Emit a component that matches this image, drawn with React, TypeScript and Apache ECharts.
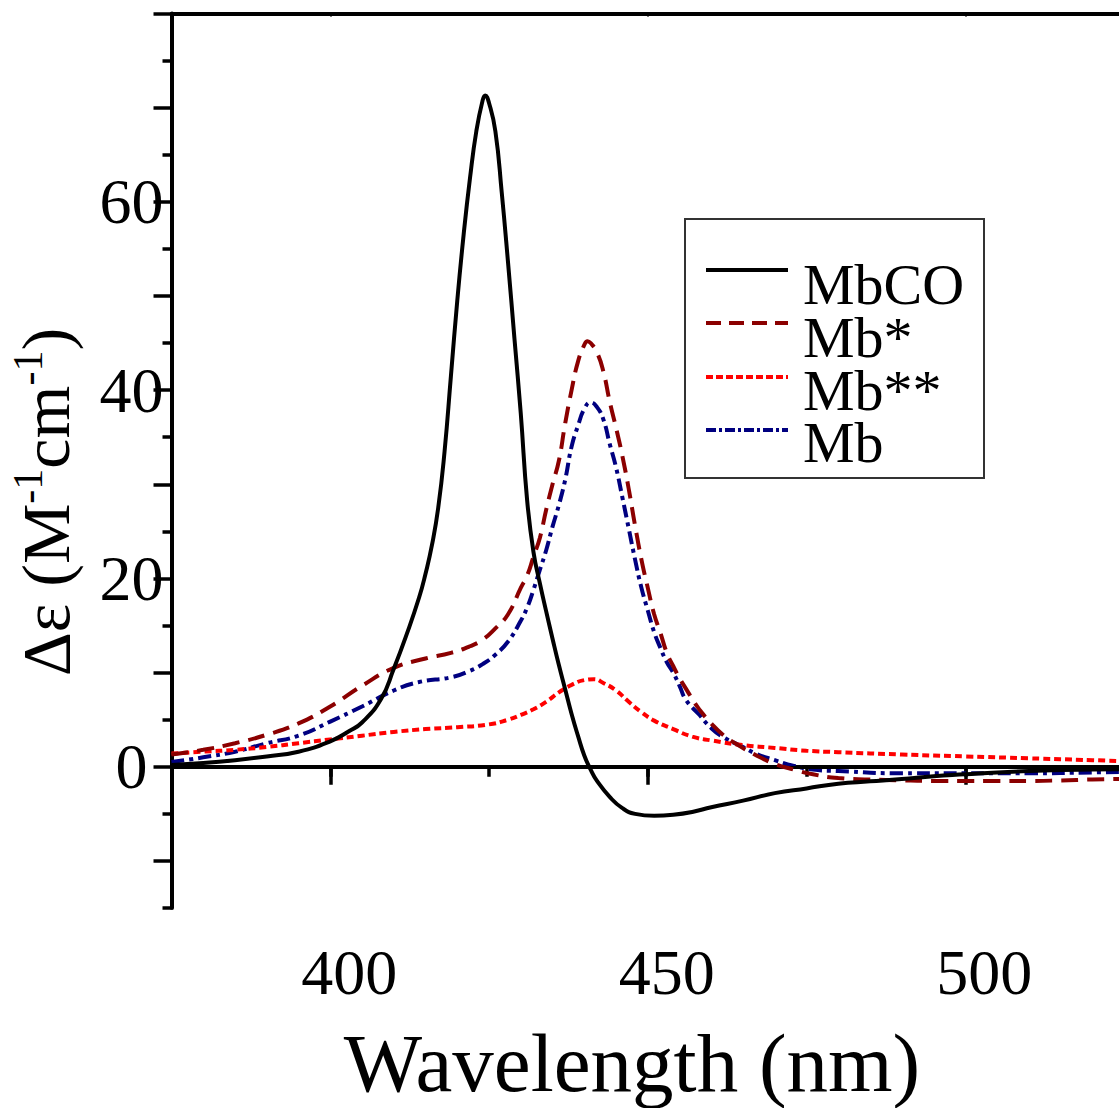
import React, { useEffect, useRef } from "react";
import * as echarts from "echarts";

const FONT = "'Liberation Serif', 'Times New Roman', serif";

const seriesNames = ["MbCO", "Mb*", "Mb**", "Mb"];
const seriesColors = ["#000000", "#8B0000", "#FF0000", "#000080"];

const xTickMinor = [375, 400, 425, 450, 475, 500];
const xTickMajor = [400, 450, 500];
const yTickMinor = [-15, -5, 5, 15, 25, 35, 45, 55, 65, 75];
const yTickMajor = [-10, 0, 10, 20, 30, 40, 50, 60, 70, 80];
const yLabels = [0, 20, 40, 60];

const mbcoX = [375, 380, 385, 390, 395, 400, 403, 405, 408, 410, 412, 414, 415, 416, 417, 418, 419, 420, 421, 422, 423, 424, 424.4, 425, 426, 427, 428, 429, 430, 431, 432, 433, 434, 435, 436, 437, 438, 439, 440, 441, 442, 444, 446, 448, 451, 454, 457, 460, 465, 470, 475, 480, 485, 490, 495, 500, 505, 510, 515, 520, 525];
const mbcoY = [0.2, 0.4, 0.7, 1.1, 1.6, 2.7, 3.8, 4.7, 7.2, 10.4, 14.0, 18.0, 20.5, 23.5, 27.5, 33.5, 41.5, 49.5, 56.5, 62.5, 67.5, 70.8, 71.3, 70.5, 67.5, 61, 53.5, 45.5, 37.5, 28.3, 22.8, 19.5, 16.5, 13.6, 10.8, 8.2, 5.6, 3.3, 1.2, -0.3, -1.5, -3.2, -4.4, -5.0, -5.2, -5.1, -4.8, -4.3, -3.6, -2.8, -2.3, -1.8, -1.55, -1.3, -1.0, -0.8, -0.6, -0.45, -0.35, -0.3, -0.25];

const mbStarX = [375, 380, 385, 390, 395, 400, 405, 410, 415, 419, 422, 424, 426, 428, 430, 431, 432, 433, 434, 435, 436, 437, 438, 439, 440, 440.5, 441, 442, 443, 444, 445, 446, 447, 448, 449, 450, 451, 452, 453, 454, 455, 456, 457, 458, 460, 462, 464, 466, 468, 470, 473, 476, 480, 485, 490, 495, 500, 505, 510, 515, 520, 525];
const mbStarY = [1.3, 1.8, 2.5, 3.4, 4.6, 6.4, 8.6, 10.5, 11.5, 12.1, 12.8, 13.5, 14.7, 16.2, 19.0, 20.3, 22.3, 24.3, 27.3, 30.0, 32.5, 36.5, 40.0, 43.0, 44.8, 45.2, 45.0, 44.0, 42.0, 38.8, 36.0, 33.0, 29.5, 25.6, 22.0, 19.0, 16.2, 14.2, 12.1, 10.7, 9.4, 8.3, 7.2, 6.2, 4.6, 3.3, 2.4, 1.6, 0.9, 0.3, -0.3, -0.8, -1.2, -1.35, -1.45, -1.5, -1.5, -1.5, -1.5, -1.45, -1.35, -1.3];

const mbStar2X = [375, 380, 385, 390, 395, 400, 405, 410, 415, 420, 425, 428, 430, 432, 434, 436, 438, 440, 441.5, 443, 445, 447, 449, 451, 454, 457, 460, 465, 470, 475, 480, 490, 500, 510, 520, 525];
const mbStar2Y = [1.4, 1.6, 1.8, 2.1, 2.5, 2.9, 3.3, 3.7, 4.0, 4.2, 4.5, 5.0, 5.5, 6.1, 6.9, 7.9, 8.7, 9.2, 9.3, 8.9, 8.1, 6.9, 5.8, 4.9, 4.0, 3.2, 2.8, 2.3, 2.0, 1.7, 1.55, 1.3, 1.1, 0.9, 0.7, 0.6];

const mbX = [375, 380, 385, 390, 395, 400, 405, 410, 414, 419, 422, 424, 426, 428, 430, 431, 432, 433, 434, 435, 436, 437, 438, 439, 440, 441, 442, 443, 444, 445, 446, 447, 448, 449, 450, 451, 452, 453, 454, 455, 456, 458, 460, 462, 465, 467, 470, 473, 476, 480, 490, 500, 510, 520, 525];
const mbY = [0.5, 1.0, 1.6, 2.5, 3.3, 4.8, 6.4, 8.1, 9.0, 9.5, 10.2, 10.9, 11.9, 13.3, 15.5, 16.9, 18.8, 20.9, 23.0, 25.5, 27.8, 30.5, 34.0, 36.2, 38.0, 38.7, 38.2, 36.9, 34.3, 31.8, 28.6, 25.3, 22.0, 19.0, 16.6, 14.3, 12.6, 11.1, 10.0, 8.6, 7.1, 5.6, 4.1, 3.1, 2.1, 1.4, 0.7, 0.1, -0.3, -0.45, -0.7, -0.7, -0.7, -0.6, -0.55];

const zip = (xs: number[], ys: number[]) => xs.map((x, i) => [x, ys[i]]);

const seriesData = [zip(mbcoX, mbcoY), zip(mbStarX, mbStarY), zip(mbStar2X, mbStar2Y), zip(mbX, mbY)];
const dashTypes: any[] = ["solid", [17, 9], [7, 4], [13, 5, 4, 5]];
const legendDash: any[] = [null, [15, 8], [7, 3], [10, 3, 3, 3]];
const legendLineY = [270, 323, 377, 430];
const legendTextY = [284, 337.5, 390, 442.5];

export default function App() {
  const ref = useRef<HTMLDivElement>(null);
  useEffect(() => {
    if (!ref.current) return;
    const chart = echarts.init(ref.current, undefined, { renderer: "svg" });
    const X_MIN = 375;
    const X_MAX = 524.2;
    const Y_MIN = -15;
    const Y_MAX = 80;
    const axisLine = { show: true, lineStyle: { color: "#000", width: 4 } };

    const legendGraphics: any[] = [
      {
        type: "rect",
        shape: { x: 685, y: 219, width: 299, height: 259 },
        style: { fill: "#fff", stroke: "#333", lineWidth: 2 },
        z: 10,
      },
    ];
    seriesNames.forEach((name, i) => {
      legendGraphics.push({
        type: "line",
        shape: { x1: 706, y1: legendLineY[i], x2: 788, y2: legendLineY[i] },
        style: {
          stroke: seriesColors[i],
          lineWidth: 4,
          lineDash: legendDash[i] || undefined,
          lineCap: "butt",
        },
        z: 11,
      });
      legendGraphics.push({
        type: "text",
        x: 803,
        y: legendTextY[i],
        style: {
          text: name,
          align: "left",
          verticalAlign: "middle",
          fontSize: 58,
          lineHeight: 50,
          fontFamily: FONT,
          fill: "#000",
        },
        z: 11,
      });
    });

    const option: any = {
      animation: false,
      backgroundColor: "#fff",
      grid: { left: 171.5, top: 13.5, width: 947.5, height: 894.5, containLabel: false },
      xAxis: [
        {
          type: "value", min: X_MIN, max: X_MAX, position: "bottom",
          axisLine,
          axisTick: { show: true, length: 10, customValues: xTickMinor, lineStyle: { color: "#000", width: 3.5 } },
          axisLabel: { show: false },
          splitLine: { show: false },
        },
        {
          type: "value", min: X_MIN, max: X_MAX, position: "bottom",
          axisLine: { show: false },
          axisTick: { show: true, length: 18, customValues: xTickMajor, lineStyle: { color: "#000", width: 3.5 } },
          axisLabel: {
            show: true, customValues: xTickMajor, margin: 32, fontSize: 64, fontFamily: FONT, color: "#000",
            padding: [0, 0, 0, 38],
          },
          splitLine: { show: false },
        },
        {
          type: "value", min: X_MIN, max: X_MAX, position: "top",
          axisLine,
          axisTick: { show: true, inside: true, length: 3, customValues: xTickMajor, lineStyle: { color: "#000", width: 2 } },
          axisLabel: { show: false },
          splitLine: { show: false },
        },
      ],
      yAxis: [
        {
          type: "value", min: Y_MIN, max: Y_MAX, position: "left",
          axisLine,
          axisTick: { show: true, length: 9, customValues: yTickMinor, lineStyle: { color: "#000", width: 3.5 } },
          axisLabel: { show: false },
          splitLine: { show: false },
        },
        {
          type: "value", min: Y_MIN, max: Y_MAX, position: "left",
          axisLine: { show: false },
          axisTick: { show: true, length: 18, customValues: yTickMajor, lineStyle: { color: "#000", width: 3.5 } },
          axisLabel: {
            show: true, customValues: yLabels, margin: 40, align: "center", fontSize: 64, fontFamily: FONT, color: "#000",
          },
          splitLine: { show: false },
        },
      ],
      graphic: [
        {
          type: "text",
          x: 46,
          y: 502,
          rotation: Math.PI / 2,
          style: {
            text: "{b|Δε (M}{s|-1}{b|cm}{s|-1}{b|)}",
            align: "center",
            verticalAlign: "middle",
            fill: "#000",
            rich: {
              b: { fontSize: 68, fontFamily: FONT, fill: "#000", lineHeight: 78, verticalAlign: "middle" },
              s: { fontSize: 42, fontFamily: FONT, fill: "#000", lineHeight: 42, verticalAlign: "top" },
            },
          },
        },
        {
          type: "text",
          x: 632,
          y: 1063,
          style: {
            text: "Wavelength (nm)",
            align: "center",
            verticalAlign: "middle",
            fontSize: 83,
            fontFamily: FONT,
            fill: "#000",
          },
        },
        ...legendGraphics,
      ],
      series: seriesNames.map((name, i) => ({
        name,
        type: "line",
        xAxisIndex: 0,
        yAxisIndex: 0,
        data: seriesData[i],
        symbol: "none",
        smooth: 0.5,
        clip: true,
        lineStyle: { color: seriesColors[i], width: 4, type: dashTypes[i], cap: "butt" },
        itemStyle: { color: seriesColors[i] },
        z: 3 + (3 - i),
        markLine: i === 0 ? {
          silent: true,
          symbol: ["none", "none"],
          label: { show: false },
          lineStyle: { color: "#000", width: 3, type: "solid" },
          data: [{ yAxis: 0 }],
        } : undefined,
      })),
    };
    chart.setOption(option);
    return () => chart.dispose();
  }, []);
  return (
    <div
      ref={ref}
      style={{ position: "absolute", left: 0, top: 0, width: 1119, height: 1108, background: "#fff" }}
    />
  );
}
